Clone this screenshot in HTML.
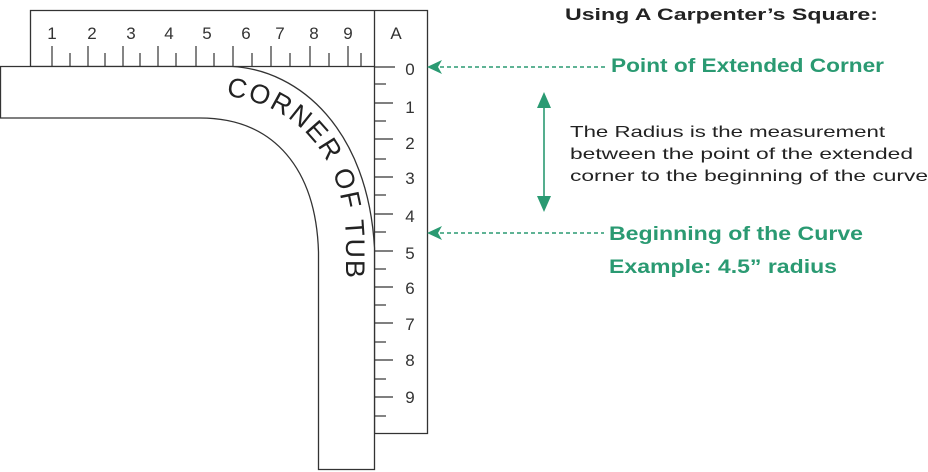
<!DOCTYPE html>
<html><head><meta charset="utf-8"><style>
html,body{margin:0;padding:0;background:#fff;}
svg{display:block;font-family:"Liberation Sans",sans-serif;}
</style></head><body>
<svg width="928" height="472" viewBox="0 0 928 472" xmlns="http://www.w3.org/2000/svg">
<path d="M30.5 10.5 H427.5 V433.5 H374.5 V66.5 H30.5 Z" fill="#fff" stroke="#333" stroke-width="1.3"/>
<line x1="374.5" y1="10" x2="374.5" y2="66" stroke="#333" stroke-width="1.3"/>
<g stroke="#333" stroke-width="1.2">
<line x1="52" y1="46" x2="52" y2="66"/><line x1="70" y1="53" x2="70" y2="66"/>
<line x1="88" y1="46" x2="88" y2="66"/><line x1="105" y1="53" x2="105" y2="66"/>
<line x1="123" y1="46" x2="123" y2="66"/><line x1="140" y1="53" x2="140" y2="66"/>
<line x1="158" y1="46" x2="158" y2="66"/><line x1="176" y1="53" x2="176" y2="66"/>
<line x1="196" y1="46" x2="196" y2="66"/><line x1="214" y1="53" x2="214" y2="66"/>
<line x1="233" y1="46" x2="233" y2="66"/><line x1="252" y1="53" x2="252" y2="66"/>
<line x1="271" y1="46" x2="271" y2="66"/><line x1="290" y1="53" x2="290" y2="66"/>
<line x1="310" y1="46" x2="310" y2="66"/><line x1="329" y1="53" x2="329" y2="66"/>
<line x1="348" y1="46" x2="348" y2="66"/><line x1="361" y1="53" x2="361" y2="66"/>
<line x1="374" y1="67" x2="395" y2="67"/>
<line x1="374" y1="84" x2="386" y2="84"/><line x1="374" y1="103" x2="393" y2="103"/>
<line x1="374" y1="121" x2="386" y2="121"/><line x1="374" y1="139" x2="393" y2="139"/>
<line x1="374" y1="159" x2="386" y2="159"/><line x1="374" y1="177" x2="393" y2="177"/>
<line x1="374" y1="195" x2="386" y2="195"/><line x1="374" y1="214" x2="393" y2="214"/>
<line x1="374" y1="232" x2="386" y2="232"/><line x1="374" y1="251" x2="393" y2="251"/>
<line x1="374" y1="269" x2="386" y2="269"/><line x1="374" y1="287" x2="393" y2="287"/>
<line x1="374" y1="305" x2="386" y2="305"/><line x1="374" y1="323" x2="393" y2="323"/>
<line x1="374" y1="342" x2="386" y2="342"/><line x1="374" y1="360" x2="393" y2="360"/>
<line x1="374" y1="379" x2="386" y2="379"/><line x1="374" y1="397" x2="393" y2="397"/>
<line x1="374" y1="416" x2="386" y2="416"/>
</g>
<g font-size="17" fill="#333" text-anchor="middle">
<text x="52" y="39">1</text><text x="92" y="39">2</text><text x="131" y="39">3</text>
<text x="169" y="39">4</text><text x="207" y="39">5</text><text x="246" y="39">6</text>
<text x="280" y="39">7</text><text x="314" y="39">8</text><text x="348" y="39">9</text>
<text x="396" y="39">A</text>
<text x="410" y="75">0</text><text x="410" y="113">1</text><text x="410" y="149">2</text>
<text x="410" y="184">3</text><text x="410" y="222">4</text><text x="410" y="259">5</text>
<text x="410" y="294">6</text><text x="410" y="330">7</text><text x="410" y="366">8</text>
<text x="410" y="403">9</text>
</g>
<path d="M0.5 66.5 H232 C300 70 368 130 374.5 248 V469.5 H318.5 V252 C316 170 275 118 200 118 H0.5 Z" fill="#fff" stroke="#333" stroke-width="1.3"/>
<path id="tp" d="M200 94 C290 94 346 150 346 245 L346 330" fill="none"/>
<text font-size="27" fill="#222" letter-spacing="1.8"><textPath href="#tp" startOffset="26">CORNER OF TUB</textPath></text>
<g stroke="#2a9a72" stroke-width="1.6" fill="#2a9a72">
<line x1="440" y1="67" x2="606" y2="67" stroke-dasharray="4,3"/>
<path d="M427 67 L442 60 L438 67 L442 74 Z" stroke="none"/>
<line x1="440" y1="233" x2="604" y2="233" stroke-dasharray="4,3"/>
<path d="M427 233 L442 226 L438 233 L442 240 Z" stroke="none"/>
<line x1="544" y1="100" x2="544" y2="205"/>
<path d="M544 92 L537 108 L551 108 Z" stroke="none"/>
<path d="M544 212 L537 196 L551 196 Z" stroke="none"/>
</g>
<text x="565" y="20" font-size="17" font-weight="bold" fill="#222" textLength="313" lengthAdjust="spacingAndGlyphs">Using A Carpenter’s Square:</text>
<text x="611" y="72" font-size="19" font-weight="bold" fill="#2a9a72" textLength="273" lengthAdjust="spacingAndGlyphs">Point of Extended Corner</text>
<g font-size="16" fill="#222">
<text x="570" y="137" textLength="315" lengthAdjust="spacingAndGlyphs">The Radius is the measurement</text>
<text x="570" y="159" textLength="343" lengthAdjust="spacingAndGlyphs">between the point of the extended</text>
<text x="570" y="181" textLength="358" lengthAdjust="spacingAndGlyphs">corner to the beginning of the curve</text>
</g>
<text x="609" y="240" font-size="19" font-weight="bold" fill="#2a9a72" textLength="254" lengthAdjust="spacingAndGlyphs">Beginning of the Curve</text>
<text x="609" y="273" font-size="19" font-weight="bold" fill="#2a9a72" textLength="228" lengthAdjust="spacingAndGlyphs">Example: 4.5” radius</text>
</svg>
</body></html>
